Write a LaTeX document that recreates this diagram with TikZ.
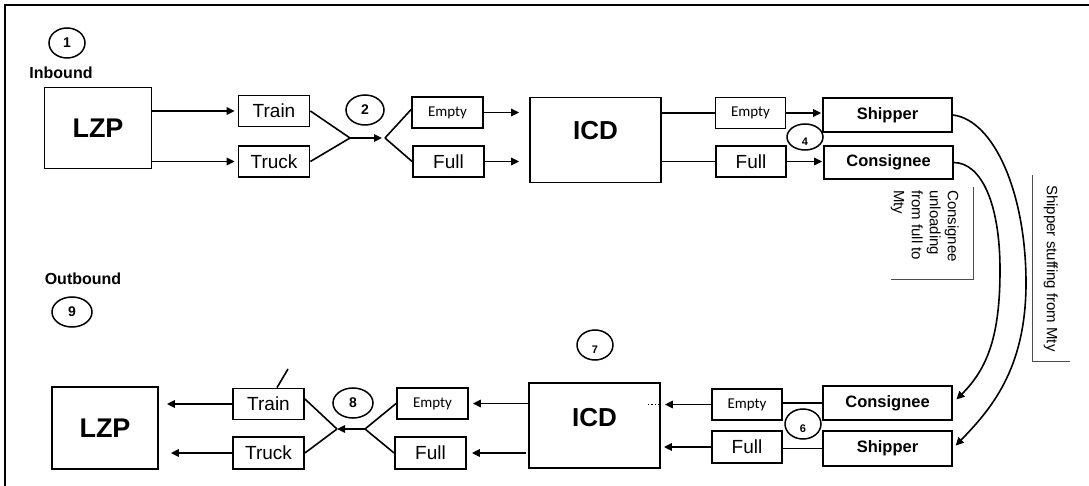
\documentclass[tikz,border=0pt]{standalone}
\usepackage{fontspec}
\setmainfont{Liberation Sans}
\newfontfamily\calibri{Carlito}
\usetikzlibrary{arrows.meta, shapes.geometric}

\begin{document}
\begin{tikzpicture}[
    x=1pt, y=-1pt,
    every node/.style={font=\fontsize{19}{22}\selectfont},
    lzpbox/.style={
        rectangle,
        draw,
        line width=1.8pt,
        minimum width=107pt,
        minimum height=81pt,
        font=\fontsize{27}{30}\selectfont\bfseries
    },
    icdbox/.style={
        rectangle,
        draw,
        line width=1.8pt,
        minimum width=131pt,
        minimum height=85pt,
        text height=19pt,
        text depth=20pt,
        font=\fontsize{26}{30}\selectfont\bfseries
    },
    modebox/.style={
        rectangle,
        draw,
        line width=1.8pt,
        minimum width=71pt,
        minimum height=31pt,
        inner sep=1pt
    },
    smallbox/.style={
        modebox,
        font=\calibri\fontsize{15}{18}\selectfont
    },
    partybox/.style={
        rectangle,
        draw,
        line width=1.8pt,
        minimum width=129pt,
        minimum height=34pt,
        font=\fontsize{16.5}{20}\selectfont\bfseries
    },
    stepmark/.style={
        ellipse,
        draw,
        line width=1.5pt,
        minimum width=36pt,
        minimum height=30pt,
        inner sep=0pt,
        font=\fontsize{14}{16}\selectfont\bfseries
    },
    lowmark/.style={
        stepmark,
        text height=17pt,
        text depth=0pt,
        font=\fontsize{11}{13}\selectfont\bfseries
    },
    heading/.style={font=\fontsize{16}{19}\selectfont\bfseries},
    note/.style={
        rotate=-90,
        anchor=north west,
        align=left,
        inner sep=0pt,
        font=\fontsize{15}{18}\selectfont
    },
    bracket/.style={draw=black!70, line width=0.6pt},
    link/.style={line width=1.6pt},
    arrow/.style={-{Triangle[length=8pt, width=7.5pt]}, line width=1.6pt}
]
\useasboundingbox (0,0) rectangle (1089,486);

% frame
\draw[line width=2.5pt] (1089,5) -- (5,5) -- (5,486);

% inbound row
\node[stepmark] (mark1) at (67,43) {1};
\node[heading] (inbound) at (61,73) {Inbound};
\node[lzpbox] (lzp1) at (98,128) {LZP};
\node[modebox] (train1) at (274,111) {Train};
\node[modebox] (truck1) at (274,161.5) {Truck};
\node[stepmark, minimum width=38pt] (mark2) at (365,110) {2};
\node[smallbox] (empty1) at (447.5,112.5) {Empty};
\node[modebox] (full1) at (448.5,161.5) {Full};
\node[icdbox] (icd1) at (595.5,140) {ICD};
\node[smallbox, minimum width=70pt] (empty2) at (750.5,113) {Empty};
\node[modebox, minimum width=70pt] (full2) at (751,161.5) {Full};
\node[partybox] (shipper1) at (887.5,115) {Shipper};
\node[partybox, minimum height=33pt] (consignee1) at (888.5,162.5) {Consignee};
\node[lowmark, minimum height=26pt] (mark4) at (805,137) {4};

\coordinate (join1) at (350,138);
\coordinate (split1) at (385,138);

\draw[arrow, shorten >=3pt] (lzp1.east |- train1) -- (train1.west);
\draw[arrow, shorten >=3pt] (lzp1.east |- truck1) -- (truck1.west);
\draw[link] (train1.east) -- (join1);
\draw[link] (truck1.east) -- (join1);
\draw[arrow, shorten >=3pt] (join1) -- (split1);
\draw[link] (split1) -- ([yshift=3pt]empty1.west);
\draw[link] (split1) -- (full1.west);
\draw[arrow, shorten >=10pt] (empty1.east) -- (empty1.east -| icd1.west);
\draw[arrow, shorten >=10pt] (full1.east) -- (full1.east -| icd1.west);
\draw[link] (icd1.east |- empty2) -- (empty2.west);
\draw[link] (icd1.east |- full2) -- (full2.west);
\draw[arrow, shorten >=1pt] (empty2.east) -- (empty2.east -| shipper1.west);
\draw[arrow, shorten >=1pt] (full2.east) -- (full2.east -| consignee1.west);

% outbound row
\node[heading] (outbound) at (83,279) {Outbound};
\node[stepmark, minimum width=40pt] (mark9) at (72,312) {9};
\node[lowmark] (mark7) at (595,345) {7};
\node[lzpbox, minimum width=106pt, minimum height=82pt] (lzp2) at (105,428) {LZP};
\node[modebox] (train2) at (268.5,404) {Train};
\node[modebox, minimum height=32pt] (truck2) at (268.5,453) {Truck};
\node[stepmark, minimum width=40pt] (mark8) at (353,403) {8};
\node[smallbox] (empty3) at (432.5,403.5) {Empty};
\node[modebox, minimum height=32pt] (full3) at (430.5,453) {Full};
\node[icdbox, minimum height=85pt, text depth=17pt] (icd2) at (594.5,425.5) {ICD};
\node[smallbox, minimum width=70pt] (empty4) at (747,404.5) {Empty};
\node[modebox, minimum width=70pt, minimum height=32pt] (full4) at (747,447) {Full};
\node[partybox] (consignee2) at (887.5,403) {Consignee};
\node[partybox, minimum height=35pt] (shipper2) at (887.5,448.5) {Shipper};
\node[lowmark] (mark6) at (803,424) {6};

\coordinate (join2) at (337,429);
\coordinate (split2) at (365,429);
\coordinate (stray) at (288,369);

\draw[link] (consignee2.west) -- (consignee2.west -| empty4.east);
\draw[link] (shipper2.west) -- (shipper2.west -| full4.east);
\draw[arrow, shorten >=4pt] (empty4.west) -- (empty4.west -| icd2.east);
\draw[arrow, shorten >=3pt] (full4.west) -- (full4.west -| icd2.east);
\draw[line width=1.4pt, dotted] ([xshift=-13pt]icd2.east |- empty4) -- (icd2.east |- empty4);
\draw[arrow, shorten >=4pt] (icd2.west |- empty3) -- (empty3.east);
\draw[arrow, shorten >=5pt] ([xshift=-2pt]icd2.west |- full3) -- (full3.east);
\draw[link] (empty3.west) -- (split2);
\draw[link] (full3.west) -- (split2);
\draw[arrow] (split2) -- (join2);
\draw[link] ([yshift=5pt]train2.east) -- (join2);
\draw[link] (truck2.east) -- (join2);
\draw[arrow, shorten >=8pt] (train2.west) -- (train2.west -| lzp2.east);
\draw[arrow, shorten >=12pt] (truck2.west) -- (truck2.west -| lzp2.east);
\draw[link] ([xshift=8.5pt]train2.north) -- (stray);

% return loops
\draw[arrow, shorten >=4pt] (shipper1.east) .. controls (994,120) and (1026,193) .. (1026,283)
    .. controls (1026,370) and (990,410) .. (shipper2.east);
\draw[arrow, shorten >=5pt] (consignee1.east) .. controls (982,163) and (1000,205) .. (1000,270)
    .. controls (1000,335) and (988,368) .. (consignee2.east);

% notes
\node[note] (unloadnote) at (959,190) {Consignee\\unloading\\from full to\\Mty};
\draw[bracket] (973,187) |- (891,279);
\node[note] (stuffnote) at (1058,185) {Shipper stuffing from Mty};
\draw[bracket] (1032,175) |- (1070,361);

\end{tikzpicture}
\end{document}
